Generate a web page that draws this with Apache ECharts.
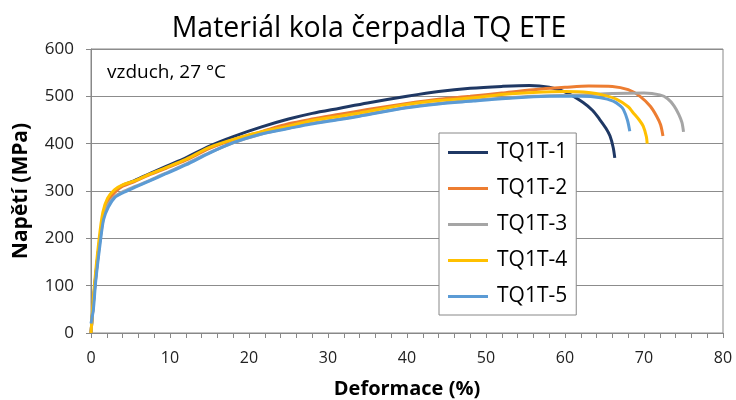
<!DOCTYPE html>
<html>
<head>
<meta charset="utf-8">
<script src="https://cdn.jsdelivr.net/npm/echarts@6/dist/echarts.min.js"></script>
<style>html,body{margin:0;padding:0;background:#fff}#c{width:736px;height:400px}</style>
</head>
<body>
<div id="c"></div>
<script>
const titleText = 'Materiál kola čerpadla TQ ETE';
const noteText = 'vzduch, 27 °C';
const xName = 'Deformace (%)';
const yName = 'Napětí (MPa)';
const seriesNames = ['TQ1T-1', 'TQ1T-2', 'TQ1T-3', 'TQ1T-4', 'TQ1T-5'];
const seriesColors = ['#1F3864', '#ED7D31', '#A5A5A5', '#FFC000', '#5B9BD5'];

const tq1 = [[0,0],[0.5,105],[1.1,195],[1.6,252],[2.2,283],[3,300],[4,312],[5.5,322],[7.5,337],[9.5,352],[12,370],[15,395],[18,415],[21.5,435],[25,452],[28,464],[31.5,475],[35,486],[40,500],[44,510],[48,517],[52,521],[55.5,523],[58,519],[60.2,508],[62.3,487],[63.5,470],[64.4,451],[65.2,432],[65.7,416],[66.1,392],[66.3,370]];
const tq2 = [[0,0],[0.5,100],[1.1,195],[1.6,250],[2.2,280],[3,297],[4,310],[5.5,320],[7.5,335],[9.5,348],[12,365],[15,390],[18,408],[21.5,425],[25,442],[28,452],[31.5,462],[35,472],[40,485],[44,494],[48,500],[52,507],[56,514],[60,519],[63,522],[66,521],[68,514],[69.5,500],[70.8,479],[71.6,458],[72.1,440],[72.4,416]];
const tq3 = [[0,0],[0.5,100],[1.1,190],[1.6,245],[2.2,272],[3,288],[4,298],[5.5,309],[7.5,323],[9.5,338],[12,357],[15,381],[18,402],[21.5,420],[25,433],[28,443],[31.5,452],[35,462],[40,477],[44,485],[48,491],[52,496],[56,500],[62,503],[66,506],[70,507],[72,503],[73,495],[73.8,480],[74.4,462],[74.8,445],[75,425]];
const tq4 = [[0,0],[0.4,95],[1,195],[1.5,255],[2.1,285],[3,303],[4,313],[5.6,322],[7.5,336],[9.4,349],[12,367],[15,392],[18,409],[21.4,424],[25,437],[27.7,448],[31.5,458],[34,465],[40,483],[44,491],[48.4,497],[52,504],[56,508],[60,510],[63,508],[65,502],[66.5,494],[68,478],[68.6,466],[69.4,450],[69.9,437],[70.3,415],[70.4,400]];
const tq5 = [[0,20],[0.3,50],[0.6,110],[1.2,195],[1.6,240],[2.2,266],[3,286],[4,296],[5.6,308],[7.5,322],[9.4,336],[12,355],[15,380],[18,402],[21.4,420],[25,432],[27.7,441],[31.5,451],[34,458],[40,476],[44,484],[48.4,490],[52,495],[56,499],[58,500],[62,500],[64.5,497],[66.1,490],[67,480],[67.4,472],[67.9,450],[68.2,426]];
const seriesData = [tq1, tq2, tq3, tq4, tq5];

const xMin = 0, xMax = 80, xStep = 10;
const yMin = 0, yMax = 600, yStep = 100;

const chart = echarts.init(document.getElementById('c'), null, {renderer: 'canvas'});
const font = '"Open Sans", sans-serif';
chart.setOption({
  animation: false,
  backgroundColor: '#fff',
  title: {
    text: titleText, left: 364, top: 9, textAlign: 'center',
    textStyle: {fontFamily: font, fontSize: 28.5, fontWeight: 'normal', color: '#000'}
  },
  graphic: [{
    type: 'text', left: 107, top: 63,
    style: {text: noteText, fontFamily: font, fontSize: 19, fill: '#000'}
  }],
  legend: {
    orient: 'vertical', left: 439, top: 133,
    padding: [9, 9, 8, 9],
    backgroundColor: '#fff', borderColor: '#888', borderWidth: 1,
    icon: 'rect', itemWidth: 40, itemHeight: 3, itemGap: 15,
    textStyle: {fontFamily: font, fontSize: 21, color: '#000', padding: [0, 0, 0, 4]},
    data: seriesNames
  },
  grid: {left: 91, right: 13, top: 49, bottom: 67, show: true, borderColor: '#888', borderWidth: 1,
         containLabel: false, outerBoundsMode: 'none'},
  xAxis: {
    type: 'value', min: xMin, max: xMax, interval: xStep,
    name: xName, nameLocation: 'middle', nameGap: 46,
    nameTextStyle: {fontFamily: font, fontSize: 20, fontWeight: 'bold', color: '#000'},
    axisLine: {show: true, lineStyle: {color: '#888'}},
    axisTick: {show: true, inside: false, length: 5, lineStyle: {color: '#888'}},
    minorTick: {show: true, splitNumber: 5, length: 5, lineStyle: {color: '#888'}},
    axisLabel: {fontFamily: font, fontSize: 16, color: '#222', margin: 17},
    splitLine: {show: false}
  },
  yAxis: {
    type: 'value', min: yMin, max: yMax, interval: yStep,
    name: yName, nameLocation: 'middle', nameGap: 59,
    nameTextStyle: {fontFamily: font, fontSize: 21, fontWeight: 'bold', color: '#000'},
    axisLine: {show: true, lineStyle: {color: '#888'}},
    axisTick: {show: true, inside: false, length: 5, lineStyle: {color: '#888'}},
    axisLabel: {fontFamily: font, fontSize: 17, color: '#222', margin: 17},
    splitLine: {show: true, lineStyle: {color: '#8c8c8c', width: 1}}
  },
  series: seriesNames.map((n, i) => ({
    name: n, type: 'line', data: seriesData[i],
    symbol: 'none', smooth: 0.3,
    lineStyle: {color: seriesColors[i], width: 3},
    itemStyle: {color: seriesColors[i]}
  }))
});
</script>
</body>
</html>
